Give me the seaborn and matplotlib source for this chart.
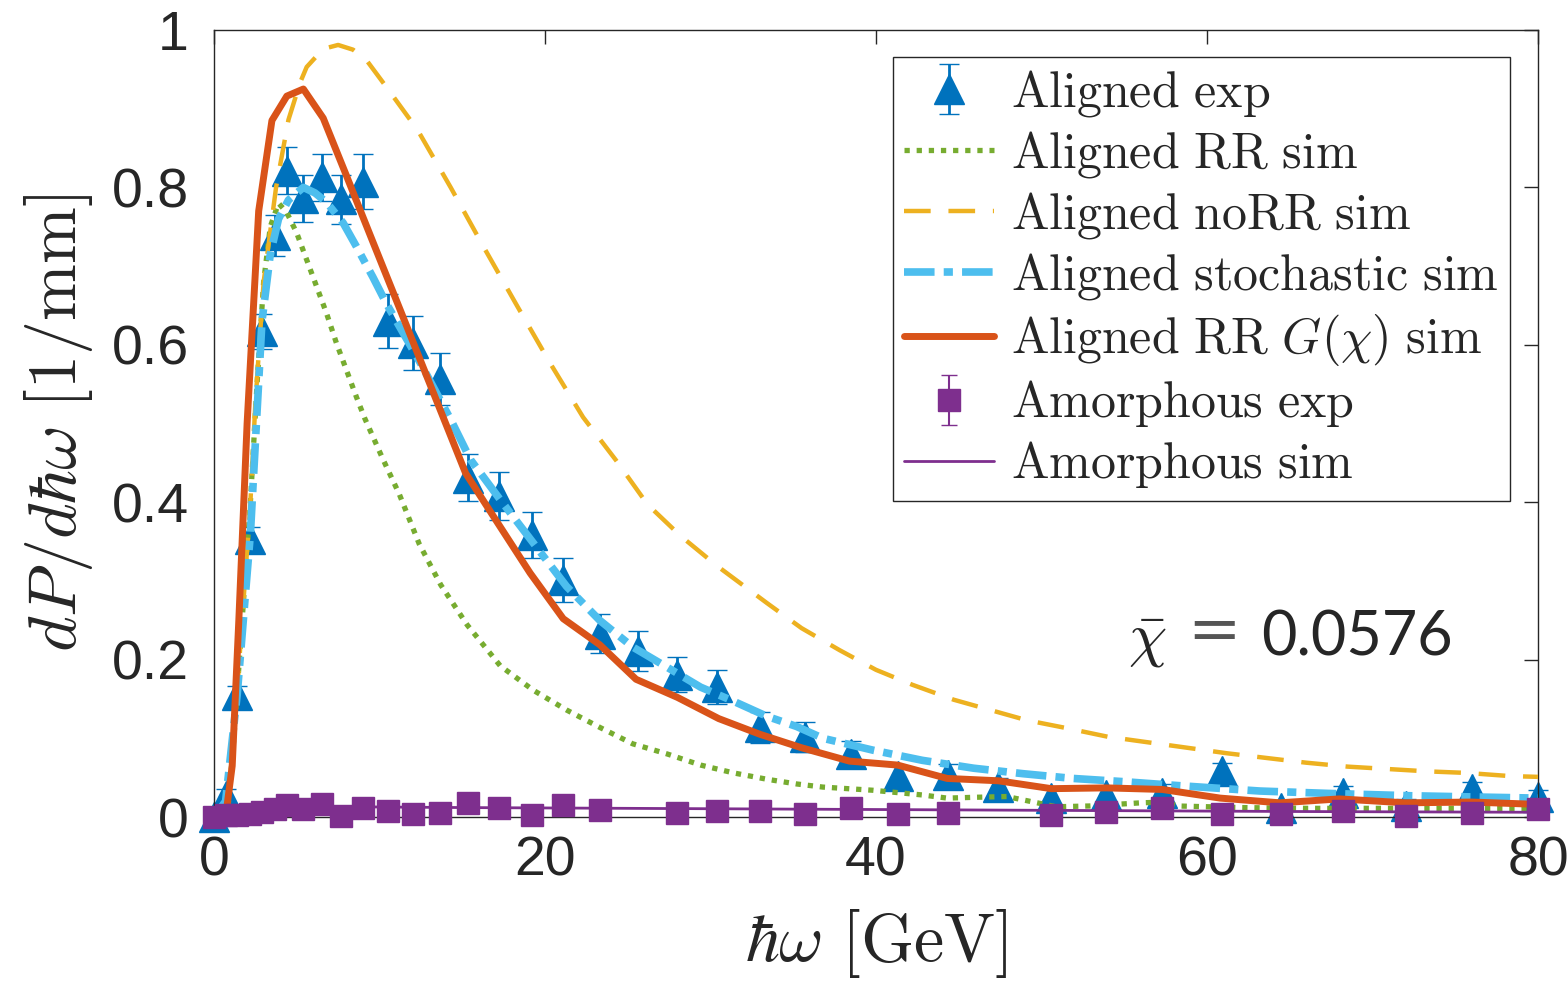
import numpy as np
import pandas as pd
import matplotlib
matplotlib.use("Agg")
import matplotlib.pyplot as plt
import seaborn as sns

# ---------------- data ----------------
aligned_exp_x = [0.0, 0.7, 1.4, 2.2, 2.9, 3.7, 4.4, 5.4, 6.5, 7.7, 9.0, 10.5, 12.0, 13.65,
                 15.35, 17.2, 19.2, 21.1, 23.3, 25.6, 28.0, 30.4, 33.0, 35.7, 38.5, 41.3,
                 44.35, 47.4, 50.6, 53.9, 57.3, 60.9, 64.5, 68.2, 72.0, 76.0, 80.0]
aligned_exp_y = [0.0, 0.027, 0.155, 0.353, 0.617, 0.739, 0.821, 0.786, 0.813, 0.785, 0.807,
                 0.630, 0.602, 0.556, 0.431, 0.408, 0.358, 0.301, 0.233, 0.211, 0.181, 0.165,
                 0.114, 0.102, 0.080, 0.052, 0.054, 0.038, 0.024, 0.028, 0.031, 0.058, 0.012,
                 0.030, 0.014, 0.036, 0.025]
aligned_exp_err = [0.003, 0.008, 0.012, 0.016, 0.022, 0.026, 0.030, 0.030, 0.030, 0.031, 0.035,
                   0.034, 0.034, 0.033, 0.030, 0.030, 0.029, 0.028, 0.025, 0.025, 0.022, 0.022,
                   0.020, 0.019, 0.016, 0.013, 0.013, 0.012, 0.012, 0.012, 0.011, 0.011, 0.010,
                   0.010, 0.009, 0.009, 0.009]

amorph_exp_x = [0.0, 0.7, 1.4, 2.2, 2.9, 3.7, 4.4, 5.4, 6.5, 7.7, 9.0, 10.5, 12.0, 13.65,
                15.35, 17.2, 19.2, 21.1, 23.3, 28.0, 30.4, 33.0, 35.7, 38.5, 41.3, 44.35,
                50.6, 53.9, 57.3, 60.9, 64.5, 68.2, 72.0, 76.0, 80.0]
amorph_exp_y = [0.0, 0.002, 0.003, 0.004, 0.006, 0.010, 0.015, 0.010, 0.016, 0.001, 0.011,
                0.008, 0.004, 0.005, 0.018, 0.011, 0.002, 0.015, 0.009, 0.005, 0.007, 0.008,
                0.004, 0.011, 0.004, 0.005, 0.003, 0.006, 0.011, 0.004, 0.004, 0.008, 0.001,
                0.005, 0.010]
amorph_exp_err = [0.002, 0.003, 0.004, 0.004, 0.004, 0.005, 0.005, 0.005, 0.005, 0.005, 0.005,
                  0.005, 0.005, 0.005, 0.005, 0.005, 0.005, 0.005, 0.005, 0.005, 0.005, 0.005,
                  0.005, 0.005, 0.005, 0.005, 0.005, 0.005, 0.005, 0.005, 0.005, 0.005, 0.005,
                  0.005, 0.005]

rr_x = [0.0, 0.8, 1.2, 1.6, 2.2, 2.6, 3.0, 3.4, 3.9, 4.4, 5.0, 5.6, 6.2, 6.8, 7.4, 8.0, 8.6,
        9.1, 10.2, 11.2, 12.4, 13.7, 15.3, 17.3, 19.3, 21.3, 23.3, 25.3, 27.4, 29.4, 31.4,
        33.4, 35.2, 36.8, 39.8, 42.8, 44.3, 45.9, 47.9, 50.9, 52.9, 56.0, 57.5, 58.2, 62.0,
        66.0, 70.0, 74.0, 78.0, 80.0]
rr_y = [0.0, 0.0, 0.10, 0.22, 0.40, 0.55, 0.68, 0.75, 0.78, 0.768, 0.742, 0.708, 0.674, 0.640,
        0.602, 0.568, 0.534, 0.507, 0.455, 0.410, 0.347, 0.295, 0.244, 0.192, 0.161, 0.136,
        0.114, 0.093, 0.080, 0.066, 0.056, 0.048, 0.042, 0.038, 0.034, 0.028, 0.024, 0.025,
        0.026, 0.013, 0.014, 0.018, 0.019, 0.014, 0.012, 0.011, 0.011, 0.011, 0.011, 0.011]

norr_x = [0.0, 0.8, 1.2, 1.6, 2.2, 2.5, 3.0, 3.75, 4.5, 5.2, 5.6, 6.6, 7.5, 8.4, 9.2, 10.4,
          12.3, 14.3, 16.3, 18.3, 20.3, 22.3, 24.3, 26.2, 28.2, 30.4, 33.4, 35.5, 37.8, 40.0,
          42.2, 44.7, 46.9, 49.1, 51.5, 54.0, 56.4, 58.8, 61.2, 63.6, 66.0, 68.5, 70.9, 73.3,
          75.7, 78.3, 80.0]
norr_y = [0.0, 0.0, 0.10, 0.22, 0.40, 0.526, 0.68, 0.80, 0.886, 0.933, 0.953, 0.976, 0.981,
          0.975, 0.962, 0.928, 0.873, 0.800, 0.724, 0.650, 0.577, 0.508, 0.453, 0.397, 0.357,
          0.319, 0.272, 0.240, 0.212, 0.187, 0.168, 0.149, 0.136, 0.123, 0.113, 0.102, 0.095,
          0.088, 0.081, 0.075, 0.069, 0.064, 0.061, 0.058, 0.056, 0.052, 0.051]

stoch_x = [0.0, 0.7, 1.4, 2.2, 2.9, 3.4, 3.9, 4.5, 5.4, 6.1, 6.8, 7.8, 8.6, 9.6, 10.4, 12.6,
           14.3, 15.5, 17.3, 19.3, 21.3, 23.3, 25.3, 27.4, 29.4, 31.4, 33.4, 35.2, 36.8, 39.8,
           42.8, 45.9, 48.9, 51.9, 54.9, 58.2, 63.2, 67.3, 72.3, 77.3, 80.0]
stoch_y = [0.0, 0.02, 0.155, 0.36, 0.63, 0.715, 0.76, 0.784, 0.800, 0.793, 0.781, 0.755, 0.725,
           0.686, 0.653, 0.572, 0.505, 0.454, 0.403, 0.348, 0.293, 0.250, 0.216, 0.190, 0.165,
           0.147, 0.128, 0.115, 0.100, 0.085, 0.072, 0.062, 0.055, 0.049, 0.045, 0.040, 0.033,
           0.030, 0.027, 0.025, 0.024]

grr_x = [0.0, 0.7, 1.1, 1.5, 2.0, 2.7, 3.5, 4.4, 5.4, 6.6, 8.0, 9.5, 11.2, 13.2, 15.2, 17.1,
         19.1, 21.1, 23.3, 25.5, 28.0, 30.5, 33.0, 35.5, 38.4, 41.3, 44.3, 47.4, 50.6, 53.9,
         57.3, 60.8, 64.4, 68.0, 72.0, 76.0, 80.0]
grr_y = [0.0, 0.0, 0.065, 0.25, 0.50, 0.77, 0.885, 0.916, 0.925, 0.888, 0.815, 0.736, 0.647,
         0.542, 0.437, 0.375, 0.310, 0.252, 0.219, 0.175, 0.152, 0.125, 0.105, 0.088, 0.071,
         0.066, 0.049, 0.046, 0.036, 0.037, 0.035, 0.024, 0.018, 0.023, 0.018, 0.019, 0.016]

amorph_sim_x = [0.0, 0.7, 1.4, 2.2, 4.0, 8.0, 15.0, 25.0, 35.0, 45.0, 55.0, 65.0, 80.0]
amorph_sim_y = [0.0, 0.004, 0.010, 0.012, 0.013, 0.013, 0.012, 0.011, 0.010, 0.009, 0.008,
                0.007, 0.006]

x_ticks = [0, 20, 40, 60, 80]
x_ticklabels = ["0", "20", "40", "60", "80"]
y_ticks = [0, 0.2, 0.4, 0.6, 0.8, 1.0]
y_ticklabels = ["0", "0.2", "0.4", "0.6", "0.8", "1"]

legend_labels = [
    r"$\mathrm{Aligned\ exp}$",
    r"$\mathrm{Aligned\ RR\ sim}$",
    r"$\mathrm{Aligned\ noRR\ sim}$",
    r"$\mathrm{Aligned\ stochastic\ sim}$",
    r"$\mathrm{Aligned\ RR}\ G(\chi)\ \mathrm{sim}$",
    r"$\mathrm{Amorphous\ exp}$",
    r"$\mathrm{Amorphous\ sim}$",
]

# ---------------- style ----------------
sns.set_theme(style="white")
plt.rcParams["font.family"] = ["Liberation Sans", "DejaVu Sans"]
plt.rcParams["mathtext.fontset"] = "cm"

C_BLUE = "#0072BD"
C_RED = "#D95319"
C_YELLOW = "#EDB120"
C_PURPLE = "#7E2F8E"
C_GREEN = "#77AC30"
C_CYAN = "#4DBEEE"

fig = plt.figure(figsize=(15.67, 9.84), dpi=100)
ax = fig.add_axes([214 / 1567, 1 - 817 / 984, 1324 / 1567, 787 / 984])

# aligned experimental points
eb_al = ax.errorbar(aligned_exp_x, aligned_exp_y, yerr=aligned_exp_err, fmt="^",
                    color=C_BLUE, ms=21, mew=1.0, capsize=7, elinewidth=2.0,
                    capthick=2.0, zorder=2, clip_on=False)


def sim_line(x, y, color, lw, ls, z):
    df = pd.DataFrame({"x": x, "y": y})
    sns.lineplot(data=df, x="x", y="y", ax=ax, color=color, linewidth=lw,
                 sort=False, estimator=None, zorder=z)
    line = ax.lines[-1]
    line.set_linestyle(ls)
    line.set_dash_capstyle("butt")
    return line


l_rr = sim_line(rr_x, rr_y, C_GREEN, 3.8, (0, (1.0, 1.3)), 3)
l_norr = sim_line(norr_x, norr_y, C_YELLOW, 3.2, (0, (6, 4)), 3)
l_st = sim_line(stoch_x, stoch_y, C_CYAN, 5.5, (0, (4, 1.2, 1.2, 1.2)), 3)
l_grr = sim_line(grr_x, grr_y, C_RED, 5.0, "-", 4)

eb_am = ax.errorbar(amorph_exp_x, amorph_exp_y, yerr=amorph_exp_err, fmt="s",
                    color=C_PURPLE, ms=16, mew=1.0, capsize=6, elinewidth=1.5,
                    capthick=1.5, zorder=5, clip_on=False)
l_am = sim_line(amorph_sim_x, amorph_sim_y, C_PURPLE, 2.0, "-", 6)

# axes
ax.set_xlim(0, 80)
ax.set_ylim(0, 1)
ax.set_xticks(x_ticks)
ax.set_xticklabels(x_ticklabels)
ax.set_yticks(y_ticks)
ax.set_yticklabels(y_ticklabels)
ax.tick_params(axis="both", direction="in", length=10, width=1.0, colors="#262626",
               labelsize=40, top=True, right=True)
ax.tick_params(axis="x", pad=13)
ax.tick_params(axis="y", pad=18)
for s in ax.spines.values():
    s.set_visible(True)
    s.set_color("#262626")
    s.set_linewidth(1.0)

ax.set_xlabel(r"$\hbar\omega\ [\mathrm{GeV}]$", fontsize=49, labelpad=14)
ax.set_ylabel(r"$dP/d\hbar\omega\ [1/\mathrm{mm}]$", fontsize=49, labelpad=12)

ax.text(55.2, 0.205, r"$\bar{\chi}$", fontsize=44, color="#262626")
ax.text(58.8, 0.212, "=", fontsize=46, family="DejaVu Sans", color="#555555")
ax.text(63.3, 0.205, "0.0576", fontsize=44, family="Lato", color="#262626")

leg = ax.legend([eb_al, l_rr, l_norr, l_st, l_grr, eb_am, l_am], legend_labels,
                loc="upper right", bbox_to_anchor=((1510 - 214) / 1324, (817 - 57) / 787),
                borderaxespad=0, fontsize=36, frameon=True, fancybox=False,
                edgecolor="#262626", framealpha=1, handlelength=1.8, handletextpad=0.34,
                labelspacing=0.20, borderpad=0.22)
leg.get_frame().set_linewidth(1.0)

fig.savefig("out.png", dpi=100)
